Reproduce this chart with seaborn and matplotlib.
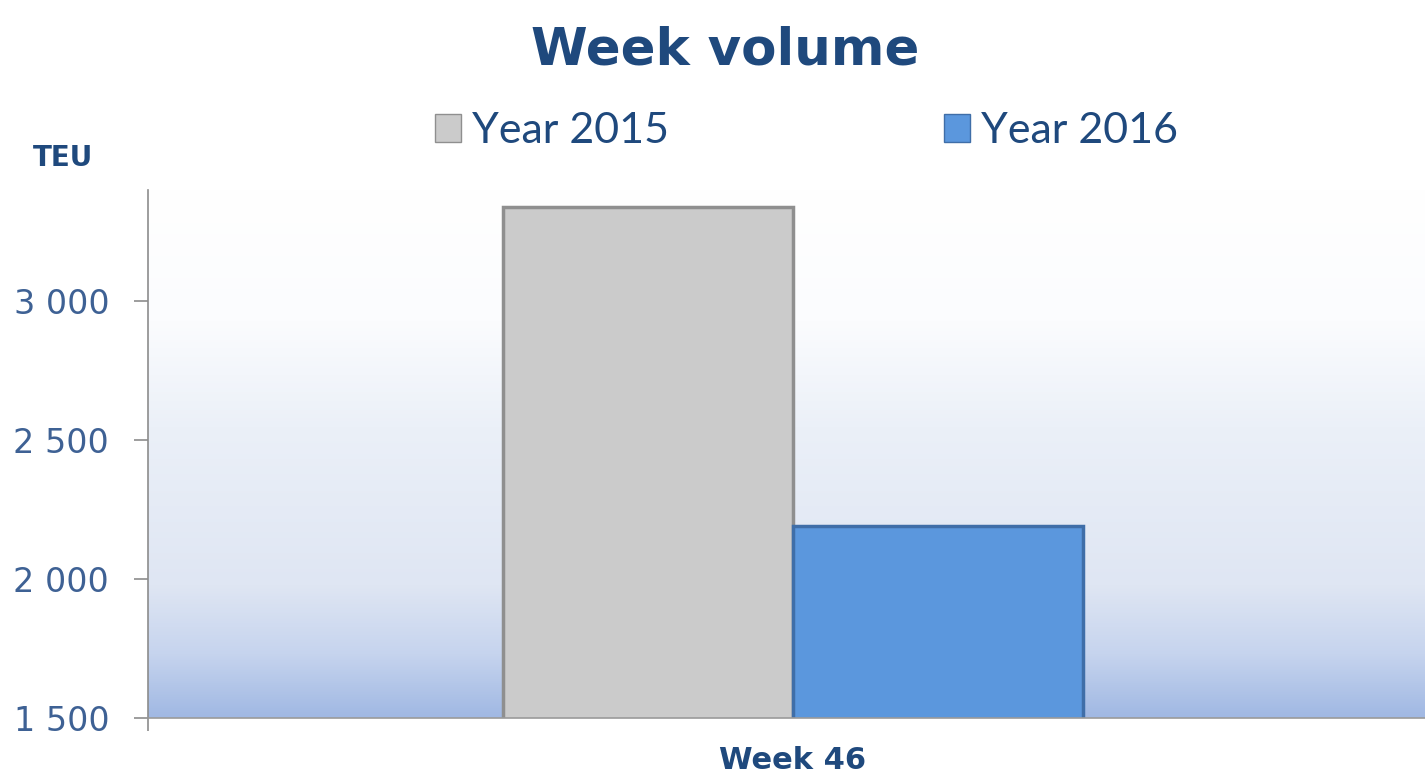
import matplotlib
matplotlib.use("Agg")
import matplotlib.pyplot as plt
from matplotlib.colors import LinearSegmentedColormap
from matplotlib.ticker import FuncFormatter
import numpy as np
import pandas as pd
import seaborn as sns

# ── data ────────────────────────────────────────────────────────────────────
weeks = ["Week 46", "Week 46"]
years = ["Year 2015", "Year 2016"]
teu = [3340, 2190]
colors = ["#cbcbcb", "#5b97dd"]
edge_colors = ["#8f8f8f", "#3f6ea8"]

df = pd.DataFrame({"week": weeks, "year": years, "teu": teu})

TITLE_BLUE = "#1f497d"
TICK_BLUE = "#3e6194"

sns.set_theme(style="white")
plt.rcParams["font.family"] = ["DejaVu Sans"]

fig = plt.figure(figsize=(14.25, 7.8), dpi=100)
ax = fig.add_axes([0.1039, 0.0795, 0.8961, 0.6770])

# gradient background: white at top → pale blue → stronger blue at the base
grad_cmap = LinearSegmentedColormap.from_list(
    "bg",
    [(0.0, "#a0b8e3"), (0.12, "#c6d4ee"), (0.25, "#dfe6f3"),
     (0.55, "#ebf0f8"), (0.75, "#fbfcfe"), (1.0, "#ffffff")],
)
grad = np.linspace(0, 1, 256).reshape(-1, 1)
ax.imshow(grad, cmap=grad_cmap, aspect="auto", origin="lower",
          extent=[0, 1, 0, 1], transform=ax.transAxes, zorder=0)

sns.barplot(data=df, x="week", y="teu", hue="year", palette=colors,
            width=0.454, gap=0, ax=ax, zorder=2, saturation=1)

for patch, ec in zip(ax.patches, edge_colors):
    patch.set_edgecolor(ec)
    patch.set_linewidth(2.5)

ax.set_xlim(-0.505, 0.495)
ax.set_ylim(1500, 3400)
ax.set_yticks([1500, 2000, 2500, 3000])
ax.yaxis.set_major_formatter(FuncFormatter(lambda v, _: f"{v:,.0f}".replace(",", " ")))
ax.tick_params(axis="y", direction="out", length=10, width=1.2, color="#8c8c8c",
               labelsize=24, labelcolor=TICK_BLUE, pad=18, left=True)
ax.tick_params(axis="x", length=0, labelsize=22, labelcolor=TITLE_BLUE, pad=20)
for lbl in ax.get_xticklabels():
    lbl.set_fontweight("bold")
# small category-boundary tick below the axis at the left spine
ax.set_xticks([-0.505], minor=True)
ax.tick_params(axis="x", which="minor", direction="out", length=9, width=1.2,
               color="#8c8c8c", bottom=True)
ax.set_xlabel("")
ax.set_ylabel("")

for side in ["top", "right"]:
    ax.spines[side].set_visible(False)
ax.spines["left"].set_color("#8c8c8c")
ax.spines["bottom"].set_color("#9a9a9a")
ax.spines["left"].set_linewidth(1.2)
ax.spines["bottom"].set_linewidth(1.2)

fig.text(0.509, 0.935, "Week volume", ha="center", va="center",
         fontsize=37, fontweight="bold", color=TITLE_BLUE)
fig.text(0.044, 0.797, "TEU", ha="center", va="center",
         fontsize=20, fontweight="bold", color=TITLE_BLUE)

handles, labels = ax.get_legend_handles_labels()
for h, ec in zip(handles, edge_colors):
    h.set_edgecolor(ec)
ax.legend(handles, labels, loc="center", bbox_to_anchor=(0.566, 0.832),
          bbox_transform=fig.transFigure, ncol=2, frameon=False,
          prop={"family": "Lato", "size": 31}, labelcolor=TITLE_BLUE,
          handlelength=0.6, handleheight=0.6, handletextpad=0.25,
          columnspacing=6.4)

fig.savefig("out.png", dpi=100)
